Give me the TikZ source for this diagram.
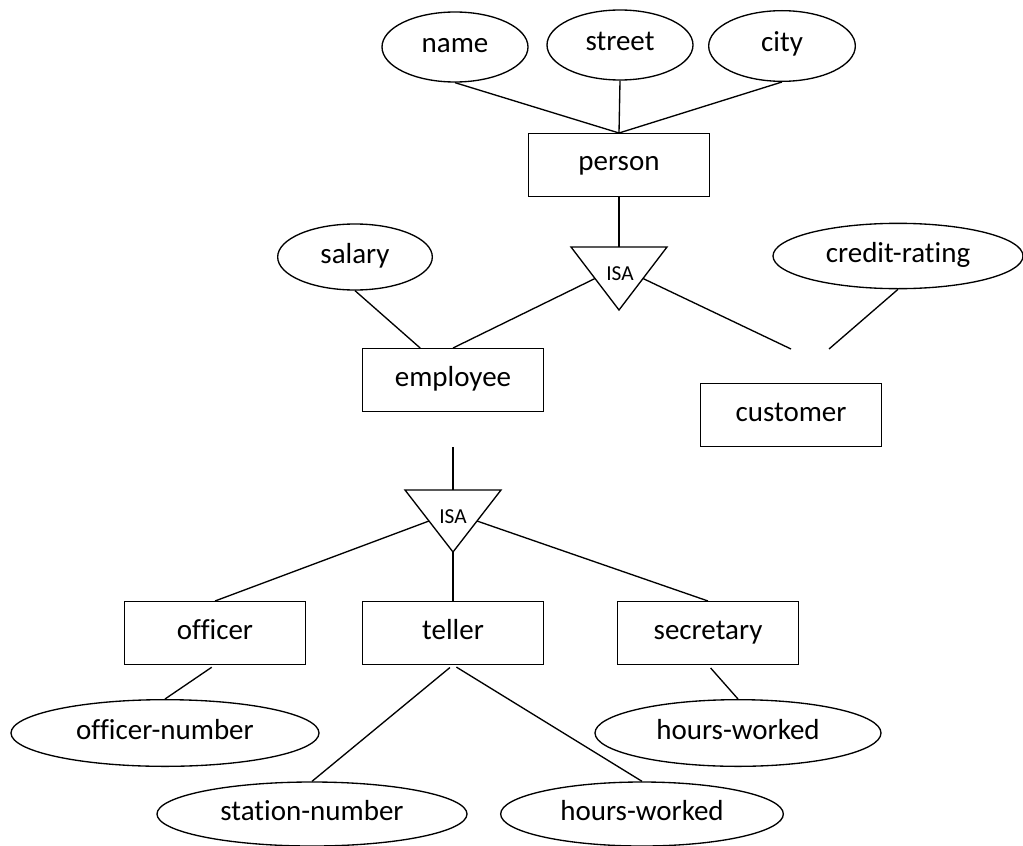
\documentclass[tikz,border=0pt]{standalone}
\usepackage{fontspec}
\setmainfont{Carlito}[Ligatures=NoCommon]
\usetikzlibrary{shapes.geometric,calc}

\begin{document}
\begin{tikzpicture}[x=0.75pt,y=-0.75pt,line width=1pt,
	entity/.style={draw,rectangle,minimum width=135.75pt,minimum height=47pt,inner sep=0pt,text height=14.5pt,text depth=5.5pt,font=\fontsize{21.75}{26}\selectfont},
	attr/.style={draw,ellipse,inner sep=0pt,text height=14.5pt,text depth=5.5pt,font=\fontsize{21.75}{26}\selectfont},
	isatext/.style={inner sep=0pt,font=\fontsize{16}{19}\selectfont},
	gap/.style={shorten <=3pt}]
\useasboundingbox (0,0) rectangle (1023,845);

% entities
\node[entity] (person) at (619,165) {person};
\node[entity] (employee) at (453,380) {employee};
\node[entity] (customer) at (791,415) {customer};
\node[entity] (officer) at (215,633) {officer};
\node[entity] (teller) at (453,633) {teller};
\node[entity] (secretary) at (708,633) {secretary};

% attributes
\node[attr,minimum width=109.5pt,minimum height=52.5pt] (name) at (455,47) {name};
\node[attr,minimum width=109.5pt,minimum height=52.5pt] (street) at (620,45) {street};
\node[attr,minimum width=110pt,minimum height=53pt] (city) at (782,46) {city};
\node[attr,minimum width=116pt,minimum height=49.5pt] (salary) at (355,257) {salary};
\node[attr,minimum width=187.5pt,minimum height=49pt] (credit) at (898,256) {credit-rating};
\node[attr,minimum width=231pt,minimum height=50pt] (offnum) at (165,733) {officer-number};
\node[attr,minimum width=214.5pt,minimum height=50pt] (hours1) at (738,733) {hours-worked};
\node[attr,minimum width=232.5pt,minimum height=48pt] (station) at (312,814) {station-number};
\node[attr,minimum width=212pt,minimum height=48pt] (hours2) at (642,814) {hours-worked};

% ISA triangles
\node[isatext] (isa1) at (620,274) {ISA};
\draw (571,247) coordinate (isa1-l) -- (667,247) coordinate (isa1-r) -- (619,310) coordinate (isa1-b) -- cycle;
\node[isatext] (isa2) at (453,517) {ISA};
\draw (405,490) coordinate (isa2-l) -- (501,490) coordinate (isa2-r) -- (453,552) coordinate (isa2-b) -- cycle;

% loose ends
\coordinate (custA) at (791,349);
\coordinate (custB) at (829,349);
\coordinate (empdown) at (453,447);

\path[draw]
(name.south) edge (person.north)
(street.south) edge (person.north)
(city.south) edge (person.north)
(person.south) edge ($(isa1-l)!.5!(isa1-r)$)
($(isa1-l)!.5!(isa1-b)$) edge (employee.north)
($(isa1-r)!.5!(isa1-b)$) edge (custA)
(credit.south) edge (custB)
(salary.south) edge ($(employee.north west)!.32!(employee.north east)$)
(empdown) edge ($(isa2-l)!.5!(isa2-r)$)
($(isa2-l)!.5!(isa2-b)$) edge (officer.north)
(isa2-b) edge (teller.north)
($(isa2-r)!.5!(isa2-b)$) edge (secretary.north)
;
\path[draw,gap]
(officer.south) edge (offnum.north)
(teller.south) edge (station.north)
(teller.south) edge (hours2.north)
(secretary.south) edge (hours1.north)
;
\end{tikzpicture}
\end{document}
